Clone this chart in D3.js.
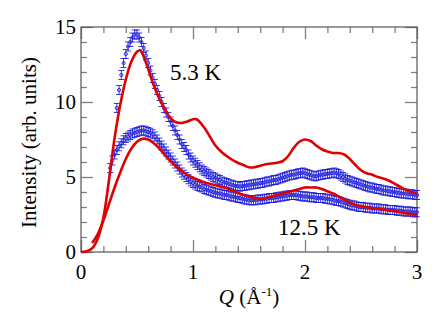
<!DOCTYPE html>
<html>
<head>
<meta charset="utf-8">
<script src="https://cdn.jsdelivr.net/npm/d3@7"></script>
<style>
  body { margin: 0; background: #fff; }
  svg { display: block; }
</style>
</head>
<body>
<script>
// measured data, 5.3 K (blue crosses, upper set)
let qLow = 0.32
let dataLow = [
  9.6, 10.8, 11.8, 12.6, 13.2, 13.7, 14.0, 14.3, 14.5, 14.5,
  14.3, 14.0, 13.6, 13.1, 12.6, 12.1, 11.6, 11.2, 10.8, 10.4,
  10.0, 9.6, 9.3, 9.0, 8.7, 8.4, 8.1, 7.8, 7.5, 7.2,
  7.0, 6.8, 6.5, 6.3, 6.1, 5.95, 5.8, 5.65, 5.5, 5.4,
  5.3, 5.2, 5.1, 5.0, 4.95, 4.85, 4.8, 4.7, 4.65, 4.6,
  4.55, 4.5, 4.45, 4.4, 4.4, 4.35, 4.4, 4.4, 4.45, 4.45,
  4.5, 4.5, 4.55, 4.55, 4.6, 4.6, 4.65, 4.7, 4.7, 4.75,
  4.8, 4.8, 4.85, 4.9, 4.95, 5.0, 5.05, 5.1, 5.15, 5.15,
  5.2, 5.25, 5.25, 5.3, 5.25, 5.2, 5.15, 5.1, 5.05, 5.05,
  5.1, 5.15, 5.15, 5.2, 5.2, 5.25, 5.25, 5.3, 5.25, 5.2,
  5.1, 5.0, 4.9, 4.8, 4.75, 4.7, 4.65, 4.6, 4.55, 4.5,
  4.45, 4.4, 4.35, 4.3, 4.3, 4.25, 4.2, 4.2, 4.15, 4.1,
  4.1, 4.05, 4.05, 4.0, 4.0, 3.95, 3.95, 3.9, 3.9, 3.9,
  3.85, 3.85, 3.85, 3.8, 3.8
]
// measured data, 12.5 K (blue crosses, lower set)
let qHigh = 0.26
let dataHigh = [
  5.6, 6.1, 6.5, 6.8, 7.05, 7.25, 7.45, 7.6, 7.7, 7.8,
  7.9, 7.95, 8.0, 8.05, 8.1, 8.1, 8.05, 8.0, 7.95, 7.85,
  7.7, 7.5, 7.3, 7.1, 6.9, 6.7, 6.5, 6.3, 6.1, 5.9,
  5.7, 5.5, 5.3, 5.15, 5.0, 4.85, 4.7, 4.6, 4.5, 4.4,
  4.35, 4.3, 4.2, 4.15, 4.1, 4.05, 4.0, 3.95, 3.9, 3.9,
  3.85, 3.8, 3.8, 3.75, 3.7, 3.7, 3.65, 3.6, 3.6, 3.55,
  3.5, 3.5, 3.45, 3.45, 3.45, 3.45, 3.5, 3.5, 3.5, 3.55,
  3.55, 3.6, 3.6, 3.6, 3.65, 3.65, 3.7, 3.7, 3.75, 3.75,
  3.8, 3.8, 3.8, 3.8, 3.75, 3.75, 3.7, 3.7, 3.7, 3.65,
  3.65, 3.65, 3.6, 3.6, 3.6, 3.6, 3.55, 3.55, 3.5, 3.5,
  3.45, 3.4, 3.4, 3.35, 3.3, 3.25, 3.2, 3.15, 3.1, 3.1,
  3.05, 3.0, 3.0, 3.0, 2.95, 2.95, 2.95, 2.9, 2.9, 2.9,
  2.9, 2.85, 2.85, 2.85, 2.8, 2.8, 2.8, 2.8, 2.75, 2.75,
  2.75, 2.7, 2.7, 2.7, 2.7, 2.65, 2.65, 2.65
]
let qStep = 0.02
let errBar = 0.3

// model curves (red)
let fitLowQ = [0, 0.05, 0.1, 0.15, 0.2, 0.25, 0.3, 0.35, 0.4, 0.45, 0.5, 0.53, 0.55, 0.6, 0.65,
  0.7, 0.75, 0.8, 0.85, 0.9, 0.95, 1.0, 1.03, 1.05, 1.1, 1.15, 1.2, 1.25, 1.3, 1.35, 1.4,
  1.45, 1.5, 1.55, 1.6, 1.65, 1.7, 1.75, 1.8, 1.85, 1.9, 1.95, 2.0, 2.05, 2.1, 2.15, 2.2,
  2.25, 2.3, 2.35, 2.4, 2.45, 2.5, 2.55, 2.6, 2.65, 2.7, 2.75, 2.8, 2.85, 2.9, 2.95, 3.0]
let fitLowI = [0, 0.05, 0.25, 0.9, 2.3, 4.8, 7.6, 9.8, 11.5, 12.7, 13.35, 13.45, 13.2, 12.2, 11.1,
  10.2, 9.5, 8.9, 8.65, 8.6, 8.7, 8.85, 8.85, 8.75, 8.3, 7.7, 7.1, 6.7, 6.4, 6.15, 5.95,
  5.8, 5.65, 5.65, 5.75, 5.85, 5.9, 5.95, 6.05, 6.4, 6.95, 7.35, 7.5, 7.4, 7.1, 6.85, 6.7,
  6.6, 6.6, 6.5, 6.2, 5.8, 5.45, 5.25, 5.15, 5.0, 4.9, 4.75, 4.55, 4.35, 4.15, 4.0, 3.95]

let fitHighQ = [0.1, 0.15, 0.2, 0.25, 0.3, 0.35, 0.4, 0.45, 0.5, 0.55, 0.6, 0.65, 0.7, 0.75, 0.8,
  0.85, 0.9, 0.95, 1.0, 1.05, 1.1, 1.15, 1.2, 1.25, 1.3, 1.35, 1.4, 1.45, 1.5, 1.55, 1.6,
  1.65, 1.7, 1.75, 1.8, 1.85, 1.9, 1.95, 2.0, 2.05, 2.1, 2.15, 2.2, 2.25, 2.3, 2.35, 2.4,
  2.45, 2.5, 2.55, 2.6, 2.65, 2.7, 2.75, 2.8, 2.85, 2.9, 2.95, 3.0]
let fitHighI = [0.6, 1.2, 2.1, 3.2, 4.3, 5.3, 6.2, 6.9, 7.35, 7.55, 7.5, 7.25, 6.9, 6.45, 6.05,
  5.7, 5.4, 5.15, 4.95, 4.8, 4.65, 4.55, 4.45, 4.35, 4.25, 4.1, 3.95, 3.8, 3.7, 3.6, 3.55,
  3.6, 3.7, 3.8, 3.9, 4.0, 4.1, 4.2, 4.3, 4.3, 4.3, 4.2, 4.05, 3.9, 3.7, 3.5, 3.3,
  3.15, 3.05, 2.98, 2.93, 2.88, 2.83, 2.78, 2.72, 2.65, 2.58, 2.52, 2.45]

let xMajor = [0, 1, 2, 3]
let yMajor = [0, 5, 10, 15]

let W = 436, H = 319
let m = { left: 81, right: 19, top: 27, bottom: 67 }

let svg = d3.select('body').append('svg').attr('width', W).attr('height', H)
  .attr('font-family', "'Liberation Serif', 'Times New Roman', Times, serif")

let x = d3.scaleLinear().domain([0, 3]).range([m.left, W - m.right])
let y = d3.scaleLinear().domain([0, 15]).range([H - m.bottom, m.top])

let xMinor = d3.range(0, 3.001, 0.2).filter(v => Math.abs(v - Math.round(v)) > 0.01)
let yMinor = d3.range(0, 15.001, 1).filter(v => v % 5 !== 0)

let tickAxis = (gen, scale, vals, size) => g => g
  .call(gen(scale).tickValues(vals).tickSize(size).tickFormat(''))
  .call(g => g.select('.domain').remove())
  .call(g => g.selectAll('.tick line').attr('stroke', '#808080').attr('stroke-width', 1.3))

let bottomY = H - m.bottom, rightX = W - m.right
svg.append('g').attr('transform', `translate(0,${bottomY})`).call(tickAxis(d3.axisBottom, x, xMinor, -6))
svg.append('g').attr('transform', `translate(0,${bottomY})`).call(tickAxis(d3.axisBottom, x, xMajor, -12))
svg.append('g').attr('transform', `translate(0,${m.top})`).call(tickAxis(d3.axisTop, x, xMinor, -6))
svg.append('g').attr('transform', `translate(0,${m.top})`).call(tickAxis(d3.axisTop, x, xMajor, -12))
svg.append('g').attr('transform', `translate(${m.left},0)`).call(tickAxis(d3.axisLeft, y, yMinor, -6))
svg.append('g').attr('transform', `translate(${m.left},0)`).call(tickAxis(d3.axisLeft, y, yMajor, -12))
svg.append('g').attr('transform', `translate(${rightX},0)`).call(tickAxis(d3.axisRight, y, yMinor, -6))
svg.append('g').attr('transform', `translate(${rightX},0)`).call(tickAxis(d3.axisRight, y, yMajor, -12))

svg.append('rect')
  .attr('x', m.left).attr('y', m.top)
  .attr('width', rightX - m.left).attr('height', bottomY - m.top)
  .attr('fill', 'none').attr('stroke', '#555').attr('stroke-width', 1.2)

// tick labels
svg.append('g').selectAll('text').data(xMajor).join('text')
  .attr('x', d => x(d)).attr('y', bottomY + 27)
  .attr('text-anchor', 'middle').attr('font-size', 21)
  .text(d => d)
svg.append('g').selectAll('text').data(yMajor).join('text')
  .attr('x', m.left - 5).attr('y', d => y(d) + 7)
  .attr('text-anchor', 'end').attr('font-size', 21)
  .text(d => d)

// blue data with error bars
let drawData = (q0, vals) => {
  let pts = vals.map((v, i) => [q0 + i * qStep, v])
  let g = svg.append('g').attr('stroke', '#1818d8').attr('stroke-width', 1).attr('fill', 'none')
    .attr('stroke-opacity', 0.85)
  let p = g.selectAll('g').data(pts).join('g')
  p.append('line')
    .attr('x1', d => x(d[0])).attr('x2', d => x(d[0]))
    .attr('y1', d => y(d[1] - errBar)).attr('y2', d => y(d[1] + errBar))
  p.append('line')
    .attr('x1', d => x(d[0]) - 3).attr('x2', d => x(d[0]) + 3)
    .attr('y1', d => y(d[1] - errBar)).attr('y2', d => y(d[1] - errBar))
  p.append('line')
    .attr('x1', d => x(d[0]) - 3).attr('x2', d => x(d[0]) + 3)
    .attr('y1', d => y(d[1] + errBar)).attr('y2', d => y(d[1] + errBar))
  p.append('circle')
    .attr('cx', d => x(d[0])).attr('cy', d => y(d[1])).attr('r', 1.6)
}
drawData(qLow, dataLow)
drawData(qHigh, dataHigh)

// red model curves
let line = d3.line().x(d => x(d[0])).y(d => y(d[1])).curve(d3.curveCatmullRom)
svg.append('path').datum(d3.zip(fitLowQ, fitLowI))
  .attr('d', line).attr('fill', 'none').attr('stroke', '#e00000').attr('stroke-width', 2.6)
svg.append('path').datum(d3.zip(fitHighQ, fitHighI))
  .attr('d', line).attr('fill', 'none').attr('stroke', '#e00000').attr('stroke-width', 2.6)

// annotations
svg.append('text').attr('x', 170).attr('y', 80).attr('font-size', 23).text('5.3 K')
svg.append('text').attr('x', 278).attr('y', 235).attr('font-size', 23).text('12.5 K')

// axis titles
svg.append('text')
  .attr('transform', `translate(36,${(m.top + bottomY) / 2 + 3}) rotate(-90)`)
  .attr('text-anchor', 'middle').attr('font-size', 21)
  .text('Intensity (arb. units)')

let xt = svg.append('text')
  .attr('x', (m.left + rightX) / 2).attr('y', 304)
  .attr('text-anchor', 'middle').attr('font-size', 21)
xt.append('tspan').attr('font-style', 'italic').text('Q')
xt.append('tspan').text(' (Å')
xt.append('tspan').attr('font-size', 13).attr('dy', -8).text('-1')
xt.append('tspan').attr('dy', 8).text(')')
</script>
</body>
</html>
